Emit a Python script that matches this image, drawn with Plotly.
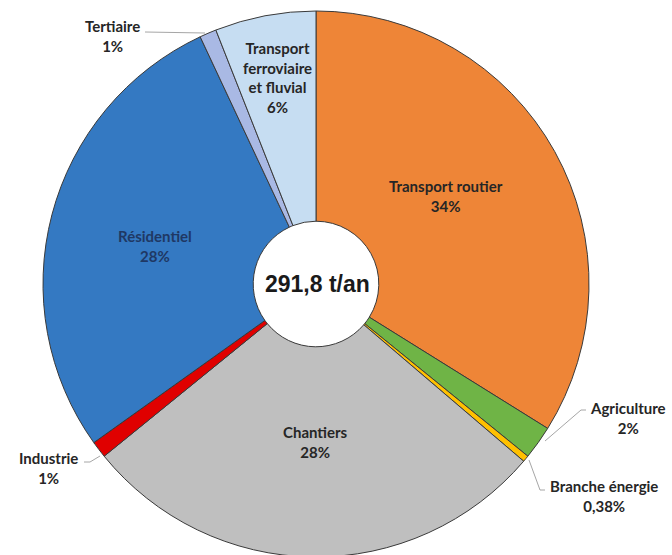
import plotly.graph_objects as go

# Emission sources (share of the yearly total, in %)
sectors = ["Transport routier", "Agriculture", "Branche énergie", "Chantiers",
           "Industrie", "Résidentiel", "Tertiaire", "Transport ferroviaire et fluvial"]
shares = [34, 2, 0.38, 28, 1, 28, 1, 6]
total_label = "291,8 t/an"

colors = ["#EE8537", "#6FB446", "#FFC000", "#BFBFBF",
          "#E00000", "#3479C2", "#A9B9E4", "#C6DDF2"]

W, H = 672, 580
CX, CY, R = 316, 284, 273


def px(x, y):
    return x / W, 1 - y / H


def fmt_pct(v):
    s = f"{v:g}".replace(".", ",")
    return s + "%"


x0, _ = px(CX - R, 0)
x1, _ = px(CX + R, 0)
_, y1 = px(0, CY - R)
_, y0 = px(0, CY + R)

fig = go.Figure(go.Pie(
    labels=sectors,
    values=shares,
    sort=False,
    direction="clockwise",
    rotation=0,
    hole=0.23,
    marker=dict(colors=colors, line=dict(color="#3A3A3A", width=1)),
    textinfo="none",
    hoverinfo="label+value",
    domain=dict(x=[x0, x1], y=[y0, y1]),
    showlegend=False,
))

# label text (split over lines) and anchor point of each label in pixels
label_lines = {
    "Transport routier": ["Transport routier"],
    "Agriculture": ["Agriculture"],
    "Branche énergie": ["Branche énergie"],
    "Chantiers": ["Chantiers"],
    "Industrie": ["Industrie"],
    "Résidentiel": ["Résidentiel"],
    "Tertiaire": ["Tertiaire"],
    "Transport ferroviaire et fluvial": ["Transport", "ferroviaire", "et fluvial"],
}
label_pos = {
    "Transport routier": (446, 196),
    "Agriculture": (628, 418),
    "Branche énergie": (604, 496),
    "Chantiers": (315, 442),
    "Industrie": (48, 468),
    "Résidentiel": (155, 246),
    "Tertiaire": (112, 36),
    "Transport ferroviaire et fluvial": (277, 77),
}
text_color = {"Résidentiel": "#1F3864"}

annotations = []
for name, val in zip(sectors, shares):
    lines = label_lines[name] + [fmt_pct(val)]
    x, y = px(*label_pos[name])
    annotations.append(dict(
        x=x, y=y, xref="paper", yref="paper", showarrow=False,
        text="<br>".join(lines), align="center",
        xanchor="center", yanchor="middle",
        font=dict(family="Lato", size=15, weight="bold",
                  color=text_color.get(name, "#262626")),
    ))

annotations.append(dict(
    x=px(CX + 1, 0)[0], y=px(0, CY)[1], xref="paper", yref="paper", showarrow=False,
    text=total_label, xanchor="center", yanchor="middle",
    font=dict(family="Arial", size=23, weight="bold", color="#1A1A1A"),
))

# leader lines for the thin slices
leaders = [
    [(145, 32), (205, 33)],
    [(586, 410), (581, 410), (545, 441)],
    [(545, 490), (540, 490), (529, 460)],
    [(84, 462), (90, 462), (100, 456)],
]
shapes = []
for pts in leaders:
    for (ax, ay), (bx, by) in zip(pts[:-1], pts[1:]):
        p, q = px(ax, ay), px(bx, by)
        shapes.append(dict(type="line", xref="paper", yref="paper",
                           x0=p[0], y0=p[1], x1=q[0], y1=q[1],
                           line=dict(color="#A6A6A6", width=1)))

fig.update_layout(
    width=W, height=H, autosize=False,
    margin=dict(l=0, r=0, t=0, b=0),
    paper_bgcolor="white", plot_bgcolor="white",
    annotations=annotations, shapes=shapes,
)

fig.write_html("out.html", config={"displayModeBar": False},
               post_script="document.body.style.overflow='hidden';document.body.style.margin='0';")
